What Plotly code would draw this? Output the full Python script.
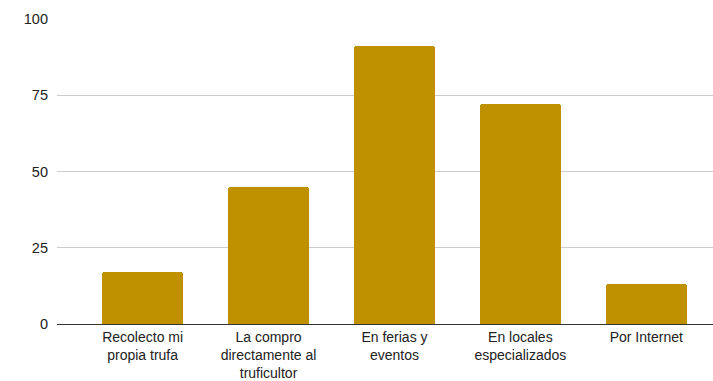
import plotly.graph_objects as go

categories = ["Recolecto mi<br>propia trufa", "La compro<br>directamente al<br>truficultor",
              "En ferias y<br>eventos", "En locales<br>especializados", "Por Internet"]
values = [17, 45, 91, 72, 13]
y_ticks = [0, 25, 50, 75, 100]

fig = go.Figure(go.Bar(
    x=list(range(len(categories))), y=values,
    marker=dict(color="#BF9000", line=dict(width=0), cornerradius=3),
    width=0.64,
))

fig.update_layout(
    width=713, height=381,
    margin=dict(l=57, r=0, t=19, b=57, autoexpand=False),
    paper_bgcolor="white", plot_bgcolor="white",
    font=dict(family="Liberation Sans, Arial, sans-serif", size=14, color="#222222"),
    showlegend=False,
    bargap=0,
)
fig.update_xaxes(
    tickmode="array", tickvals=list(range(len(categories))), ticktext=categories,
    range=[-0.68, 4.53], showgrid=False, zeroline=False,
    showline=True, linecolor="#333333", linewidth=1,
    ticks="", ticklabelstandoff=0, automargin=False,
)
fig.update_yaxes(
    range=[0, 100], tickmode="array", tickvals=y_ticks,
    showgrid=True, gridcolor="#cccccc", gridwidth=1,
    zeroline=False, showline=False, ticks="", ticklabelstandoff=8,
    tickfont=dict(size=14.5), automargin=False,
)

fig.write_html("out.html")
